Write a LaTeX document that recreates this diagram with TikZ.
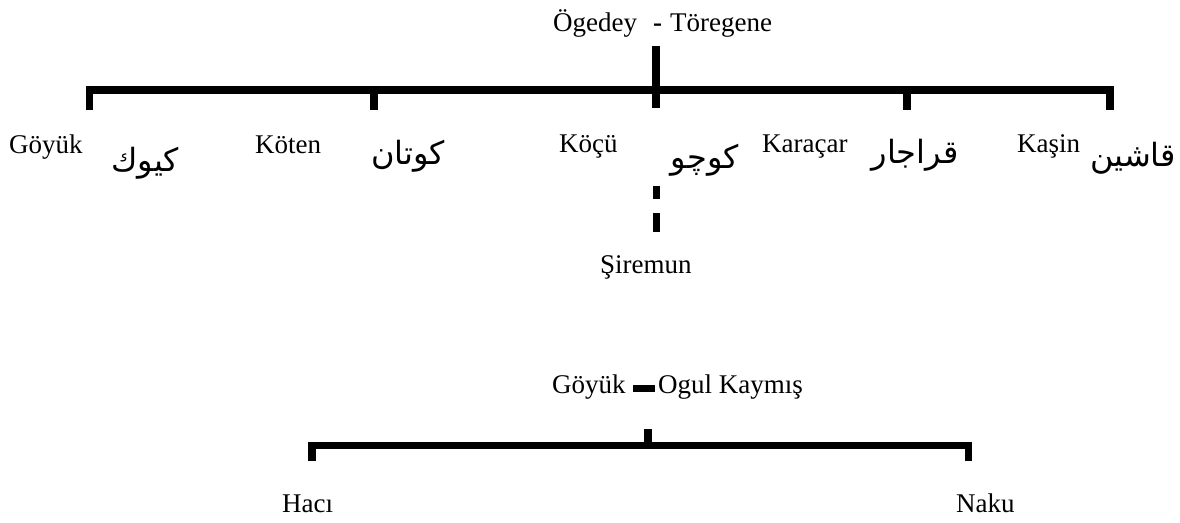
\documentclass[tikz,border=0pt]{standalone}
\usepackage{fontspec}
\setmainfont{Liberation Serif}
\newfontfamily\arabicfont[Script=Arabic]{DejaVu Sans}
\TeXXeTstate=1
\definecolor{shadowgray}{HTML}{A8A8A8}
\tikzset{
  bar/.style={line width=7.5pt, line cap=butt, line join=miter, black},
  shd/.style={line width=7.5pt, line cap=butt, line join=miter, shadowgray},
  lbl/.style={font=\fontsize{27}{30}\selectfont, inner sep=0pt, anchor=base west},
  ar/.style={font=\arabicfont\fontsize{32}{36}\selectfont, inner sep=0pt},
}
\newcommand\shadowdraw[1]{\draw[shd,xshift=0.5pt,yshift=-4pt] #1; \draw[bar] #1;}
\begin{document}
\begin{tikzpicture}[x=1pt,y=-1pt]
\useasboundingbox (0,0) rectangle (1180,522);
\fill[white] (0,0) rectangle (1180,522);
% ---- first tree
\node[lbl] (ogedey) at (553,31) {Ögedey};
\node[lbl] (dash) at (653,31) {\textbf{-}};
\node[lbl] (toregene) at (670,31) {Töregene};
\coordinate (top) at (656,46);
\coordinate (b1) at (89.5,90);  \coordinate (d1) at (89.5,110);
\coordinate (b2) at (374,90);   \coordinate (d2) at (374,110);
\coordinate (b3) at (656,90);   \coordinate (d3) at (656,108);
\coordinate (b4) at (907,90);   \coordinate (d4) at (907,110);
\coordinate (b5) at (1110,90);  \coordinate (d5) at (1110,110);
\shadowdraw{(d1) -- (b1) -- (b5) -- (d5)}
\shadowdraw{(b2) -- (d2)}
\shadowdraw{(b4) -- (d4)}
\shadowdraw{(top) -- (d3)}

\node[lbl] (goyuk) at (9,153) {Göyük};
\node[lbl] (koten) at (255,153) {Köten};
\node[lbl] (kocu) at (559,152) {Köçü};
\node[lbl] (karacar) at (762,152) {Karaçar};
\node[lbl] (kasin) at (1017,152) {Kaşin};

\node[ar] (argoyuk) at (145,163) {\beginR كيوك\endR};
\node[ar] (arkoten) at (408,156) {\beginR كوتان\endR};
\node[ar] (arkocu) at (705,160) {\beginR كوچو\endR};
\node[ar] (arkaracar) at (915,155) {\beginR قراجار\endR};
\node[ar] (arkasin) at (1133,158) {\beginR قاشين\endR};

\coordinate (k1) at (656.5,186); \coordinate (k2) at (656.5,199);
\coordinate (k3) at (656.5,213); \coordinate (k4) at (656.5,232);
\shadowdraw{(k1) -- (k2)}
\shadowdraw{(k3) -- (k4)}
\node[lbl] (siremun) at (600,273) {Şiremun};

% ---- second tree
\node[lbl] (g2) at (552,393) {Göyük};
\node[lbl] (ogul) at (658,393) {Ogul Kaymış};
\coordinate (m1) at (633,388.5); \coordinate (m2) at (655,388.5);
\draw[shd,line width=6.5pt,yshift=-3.5pt] (m1) -- (m2);
\draw[bar,line width=6.5pt] (m1) -- (m2);

\coordinate (top2) at (648,429); \coordinate (mid2) at (648,446);
\coordinate (c1) at (312,445.6); \coordinate (e1) at (312,461);
\coordinate (c2) at (968.5,445.6); \coordinate (e2) at (968.5,461);
\shadowdraw{(e1) -- (c1) -- (c2) -- (e2)}
\shadowdraw{(top2) -- (mid2)}
\node[lbl] (haci) at (282,512) {Hacı};
\node[lbl] (naku) at (956,512) {Naku};
\end{tikzpicture}
\end{document}
